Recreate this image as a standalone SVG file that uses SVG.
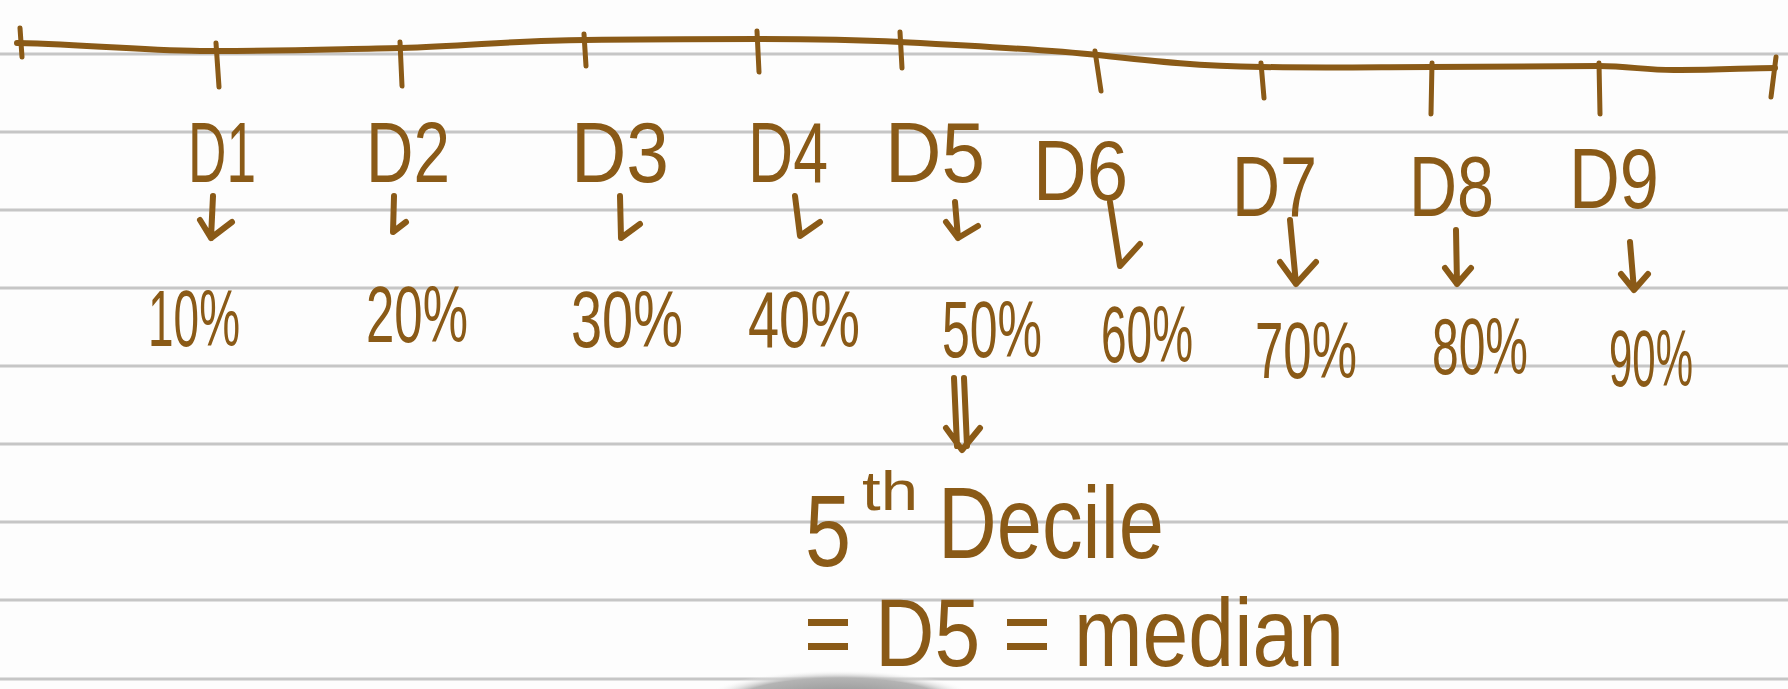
<svg xmlns="http://www.w3.org/2000/svg" width="1788" height="689" viewBox="0 0 1788 689">
<defs>
<style>
.rule{stroke:#c6c6c6;stroke-width:3;fill:none}
.ink{stroke:#8a5a17;stroke-width:6;fill:none;stroke-linecap:round;stroke-linejoin:round}
.tick{stroke:#8a5a17;stroke-width:5;fill:none;stroke-linecap:round}
text{font-family:"Liberation Sans",Arial,sans-serif;fill:#8a5a17}
.lbl{font-size:86px}
.pct{font-size:80px}
.big{font-size:102px}
.sup{font-size:56px}
.med{font-size:96px}
</style>
<radialGradient id="sh" cx="0.5" cy="0.5" r="0.5">
<stop offset="0" stop-color="#8a8a8a"/>
<stop offset="0.75" stop-color="#b4b4b4"/>
<stop offset="1" stop-color="#ffffff" stop-opacity="0"/>
</radialGradient>
</defs>
<rect width="1788" height="689" fill="#fdfdfd"/>
<g id="paper">
<line class="rule" x1="0" y1="54" x2="1788" y2="54"/>
<line class="rule" x1="0" y1="132" x2="1788" y2="132"/>
<line class="rule" x1="0" y1="210" x2="1788" y2="210"/>
<line class="rule" x1="0" y1="288" x2="1788" y2="288"/>
<line class="rule" x1="0" y1="366" x2="1788" y2="366"/>
<line class="rule" x1="0" y1="444" x2="1788" y2="444"/>
<line class="rule" x1="0" y1="522" x2="1788" y2="522"/>
<line class="rule" x1="0" y1="600" x2="1788" y2="600"/>
<line class="rule" x1="0" y1="679" x2="1788" y2="679"/>
<ellipse cx="840" cy="702" rx="140" ry="32" fill="url(#sh)"/>
</g>
<g id="axis">
<path class="ink" d="M17,43 C100,45 160,52 217,51 C290,51 340,49 401,48 C470,46 520,40 585,40 C650,39 700,39 758,39 C820,39 860,40 901,42 C980,46 1040,49 1098,55 C1160,62 1200,66 1262,67 C1330,68 1380,67 1431,67 C1500,67 1560,66 1599,66 C1630,66 1650,71 1680,70 C1720,70 1750,68 1775,68"/>
<path class="tick" d="M20,28 L22,57"/>
<path class="tick" d="M1776,57 L1771,97"/>
<path class="tick" d="M216,43 L219,87"/>
<path class="tick" d="M400,42 L402,86"/>
<path class="tick" d="M584,34 L586,66"/>
<path class="tick" d="M757,31 L759,72"/>
<path class="tick" d="M900,32 L902,68"/>
<path class="tick" d="M1095,51 L1101,91"/>
<path class="tick" d="M1261,63 L1264,98"/>
<path class="tick" d="M1432,63 L1431,114"/>
<path class="tick" d="M1599,63 L1600,114"/>
</g>
<g id="labels">
<text class="lbl" x="188" y="182" textLength="68" lengthAdjust="spacingAndGlyphs">D1</text>
<text class="lbl" x="366" y="182" textLength="84" lengthAdjust="spacingAndGlyphs">D2</text>
<text class="lbl" x="571" y="182" textLength="98" lengthAdjust="spacingAndGlyphs">D3</text>
<text class="lbl" x="748" y="182" textLength="80" lengthAdjust="spacingAndGlyphs">D4</text>
<text class="lbl" x="885" y="182" textLength="100" lengthAdjust="spacingAndGlyphs">D5</text>
<text class="lbl" x="1033" y="200" textLength="95" lengthAdjust="spacingAndGlyphs">D6</text>
<text class="lbl" x="1232" y="216" textLength="85" lengthAdjust="spacingAndGlyphs">D7</text>
<text class="lbl" x="1409" y="216" textLength="85" lengthAdjust="spacingAndGlyphs">D8</text>
<text class="lbl" x="1569" y="208" textLength="90" lengthAdjust="spacingAndGlyphs">D9</text>
</g>
<g id="percents">
<text class="pct" x="148" y="346" textLength="92" lengthAdjust="spacingAndGlyphs">10%</text>
<text class="pct" x="366" y="342" textLength="102" lengthAdjust="spacingAndGlyphs">20%</text>
<text class="pct" x="571" y="347" textLength="112" lengthAdjust="spacingAndGlyphs">30%</text>
<text class="pct" x="748" y="347" textLength="112" lengthAdjust="spacingAndGlyphs">40%</text>
<text class="pct" x="942" y="357" textLength="100" lengthAdjust="spacingAndGlyphs">50%</text>
<text class="pct" x="1101" y="362" textLength="92" lengthAdjust="spacingAndGlyphs">60%</text>
<text class="pct" x="1255" y="378" textLength="102" lengthAdjust="spacingAndGlyphs">70%</text>
<text class="pct" x="1432" y="374" textLength="96" lengthAdjust="spacingAndGlyphs">80%</text>
<text class="pct" x="1609" y="386" textLength="84" lengthAdjust="spacingAndGlyphs">90%</text>
</g>
<g id="connectors">
<path class="ink" d="M213,196 L211,238 M200,220 L211,238 L232,222"/>
<path class="ink" d="M394,196 L393,232 L406,222"/>
<path class="ink" d="M620,196 L621,238 L640,224"/>
<path class="ink" d="M795,196 L800,236 L820,222"/>
<path class="ink" d="M955,202 L958,238 L978,226 M946,222 L958,238"/>
<path class="ink" d="M1110,202 L1120,266 L1140,244"/>
<path class="ink" d="M1290,220 L1296,284 L1316,262 M1280,262 L1296,284"/>
<path class="ink" d="M1456,230 L1457,284 L1471,268 M1445,268 L1457,284"/>
<path class="ink" d="M1630,242 L1634,290 L1648,274 M1621,274 L1634,290"/>
<path class="ink" d="M954,378 L957,446 M964,378 L967,446 M946,428 L962,450 L980,428"/>
</g>
<g id="decile">
<text class="big" x="805" y="566" textLength="46" lengthAdjust="spacingAndGlyphs">5</text>
<text class="sup" x="862" y="510" textLength="56" lengthAdjust="spacingAndGlyphs">th</text>
<text class="big" x="938" y="558" textLength="226" lengthAdjust="spacingAndGlyphs">Decile</text>
</g>
<g id="median">
<text class="med" x="804" y="666" textLength="540" lengthAdjust="spacingAndGlyphs">= D5 = median</text>
</g>
</svg>
